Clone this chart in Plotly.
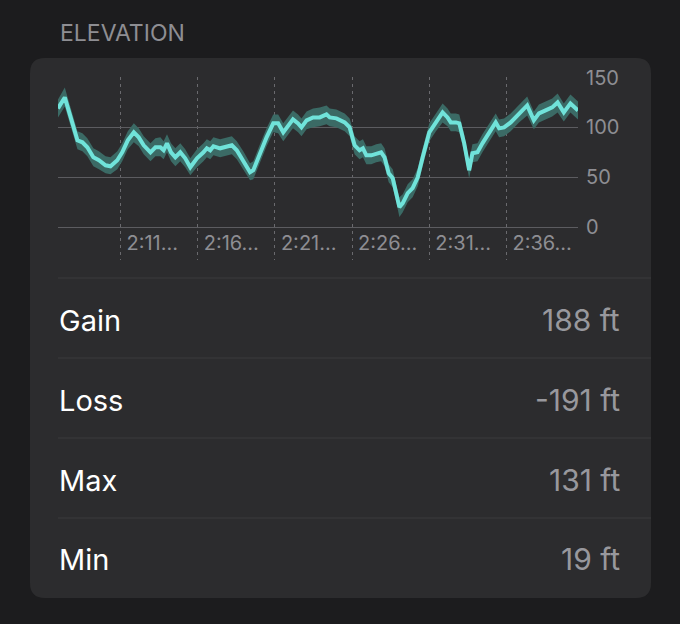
import plotly.graph_objects as go

# ---- data (minutes after 2:00, elevation in ft) ----
minutes = [6.95, 7.39, 8.21, 8.53, 8.85, 9.24, 9.60, 10.03, 10.35, 10.79, 11.11, 11.47, 11.86, 12.18,
           12.50, 12.94, 13.26, 13.58, 13.79, 14.01, 14.27, 14.55, 14.87, 15.19, 15.52, 15.95, 16.37,
           16.59, 16.81, 17.02, 17.45, 17.88, 18.21, 18.53, 18.95, 19.39, 19.60, 20.03, 20.46, 20.89,
           21.21, 21.54, 21.86, 22.17, 22.50, 22.72, 23.05, 23.47, 23.90, 24.34, 24.55, 24.98, 25.52,
           25.84, 26.16, 26.48, 26.70, 26.92, 27.24, 27.56, 27.88, 28.10, 28.37, 28.63, 28.85, 29.06,
           29.28, 29.60, 29.92, 30.25, 30.57, 31.00, 31.43, 31.86, 32.18, 32.39, 32.72, 32.94, 33.26,
           33.58, 33.79, 34.12, 34.44, 34.87, 35.30, 35.52, 35.84, 36.27, 36.81, 37.34, 37.77, 38.10,
           38.53, 38.96, 39.31, 39.71, 40.14, 40.46, 40.63]
elevation = [119, 130, 87, 85, 80, 70, 67, 62, 61, 67, 75, 87, 95, 90,
             82, 75, 80, 80, 77, 84, 75, 70, 75, 69, 60, 69, 75,
             79, 77, 81, 79, 81, 82, 77, 67, 55, 57, 74, 90, 104,
             104, 95, 102, 108, 104, 100, 107, 110, 110, 113, 110, 109, 105,
             100, 82, 77, 79, 72, 72, 74, 75, 70, 54, 49, 34, 20,
             24, 34, 39, 50, 70, 95, 105, 115, 110, 105, 105, 104, 84,
             57, 74, 75, 84, 95, 105, 99, 100, 105, 114, 122, 107, 114,
             117, 120, 125, 115, 124, 120, 117]
elev_low = [110, 121, 78, 76, 71, 61, 58, 54, 53, 58, 66, 78, 85, 81,
            73, 66, 71, 71, 68, 75, 66, 61, 66, 60, 52, 60, 66,
            70, 68, 72, 70, 72, 73, 68, 58, 47, 48, 65, 81, 95,
            94, 86, 93, 99, 95, 91, 98, 100, 101, 103, 101, 100, 96,
            91, 73, 68, 70, 63, 63, 65, 66, 61, 45, 40, 26, 10,
            15, 25, 30, 41, 61, 86, 96, 105, 101, 96, 96, 95, 75,
            49, 65, 66, 75, 86, 96, 90, 91, 96, 105, 112, 98, 105,
            108, 111, 115, 106, 115, 111, 108]
elev_high = [128, 140, 96, 94, 89, 79, 76, 71, 70, 76, 84, 96, 104, 99,
             91, 84, 89, 90, 86, 93, 84, 79, 84, 78, 69, 78, 84,
             88, 86, 90, 88, 90, 91, 86, 76, 64, 66, 83, 99, 113,
             113, 104, 111, 117, 113, 109, 116, 119, 120, 122, 119, 118, 114,
             109, 91, 86, 88, 81, 81, 83, 84, 79, 63, 58, 43, 30,
             33, 43, 48, 59, 79, 104, 114, 124, 119, 114, 114, 113, 93,
             66, 83, 84, 93, 104, 114, 108, 109, 114, 123, 131, 116, 123,
             126, 129, 134, 124, 133, 129, 126]

x_tick_vals = [11, 16, 21, 26, 31, 36]
x_tick_text = ["2:11…", "2:16…", "2:21…", "2:26…", "2:31…", "2:36…"]
y_tick_vals = [0, 50, 100, 150]

title_text = "ELEVATION"
stat_labels = ["Gain", "Loss", "Max", "Min"]
stat_values = ["188 ft", "-191 ft", "131 ft", "19 ft"]

# ---- layout geometry (pixels) ----
W, H = 680, 624
PL, PR, PT, PB = 58, 578, 77, 260  # plot area
FONT = "Inter, Roboto, sans-serif"


def px(x):
    return (x - PL) / (PR - PL)


def py(y):
    return (PB - y) / (PB - PT)


fig = go.Figure()
fig.add_trace(go.Scatter(x=minutes, y=elev_low, mode="lines", line=dict(width=0, color="#3b6a65"),
                         hoverinfo="skip", showlegend=False))
fig.add_trace(go.Scatter(x=minutes, y=elev_high, mode="lines", line=dict(width=0, color="#3b6a65"),
                         fill="tonexty", fillcolor="#3b6a65", hoverinfo="skip", showlegend=False))
fig.add_trace(go.Scatter(x=minutes, y=elevation, mode="lines",
                         line=dict(width=4, color="#70e3da"), showlegend=False))

# card background (rounded)
cx0, cx1, cy0, cy1, r = 30, 651, 58, 598, 15
rx, ry = r / (PR - PL), r / (PB - PT)
X0, X1, Y0, Y1 = px(cx0), px(cx1), py(cy1), py(cy0)
path = (f"M {X0 + rx} {Y0} L {X1 - rx} {Y0} Q {X1} {Y0} {X1} {Y0 + ry} "
        f"L {X1} {Y1 - ry} Q {X1} {Y1} {X1 - rx} {Y1} L {X0 + rx} {Y1} "
        f"Q {X0} {Y1} {X0} {Y1 - ry} L {X0} {Y0 + ry} Q {X0} {Y0} {X0 + rx} {Y0} Z")
shapes = [dict(type="path", path=path, xref="paper", yref="paper", fillcolor="#2c2c2e",
               line=dict(width=0), layer="below")]

# separators and rows
sep_y = [278, 358, 438, 518]
row_y = [320, 400, 480, 559]
for sy in sep_y:
    shapes.append(dict(type="line", xref="paper", yref="paper", x0=px(58), x1=px(651),
                       y0=py(sy), y1=py(sy), line=dict(color="#3a3a3d", width=1.2)))

annotations = [dict(text=title_text, x=px(58), y=py(33), xref="paper", yref="paper",
                    xanchor="left", yanchor="middle", showarrow=False,
                    font=dict(family=FONT, size=23, color="#8e8e93"))]
for lab, val, ry_ in zip(stat_labels, stat_values, row_y):
    annotations.append(dict(text=lab, x=px(57), y=py(ry_), xref="paper", yref="paper",
                            xanchor="left", yanchor="middle", showarrow=False,
                            font=dict(family=FONT, size=29, color="#ffffff")))
    annotations.append(dict(text=val, x=px(622), y=py(ry_), xref="paper", yref="paper",
                            xanchor="right", yanchor="middle", showarrow=False,
                            font=dict(family=FONT, size=30, color="#98989d")))

fig.update_layout(
    width=W, height=H,
    margin=dict(l=PL, r=W - PR, t=PT, b=H - PB, pad=0),
    paper_bgcolor="#1c1c1e", plot_bgcolor="rgba(0,0,0,0)",
    shapes=shapes, annotations=annotations,
    xaxis=dict(range=[min(minutes), max(minutes)], tickvals=x_tick_vals, ticktext=x_tick_text,
               showgrid=True, gridcolor="#6a6a6e", griddash="3px,4px", gridwidth=1,
               zeroline=False, showline=False, ticks="",
               ticklabelposition="inside right", ticklabelshift=6,
               tickfont=dict(family=FONT, size=20, color="#8e8e93")),
    yaxis=dict(range=[-33, 150.5], tickvals=y_tick_vals, side="right",
               showgrid=True, gridcolor="#5c5c60", gridwidth=1.2,
               zeroline=False, showline=False, ticks="", ticklabelstandoff=7,
               tickfont=dict(family=FONT, size=20, color="#8e8e93")),
    hovermode=False,
)

fig.write_html("out.html", config={"displayModeBar": False},
               post_script="document.body.style.margin='0';document.body.style.background='#1c1c1e';")
